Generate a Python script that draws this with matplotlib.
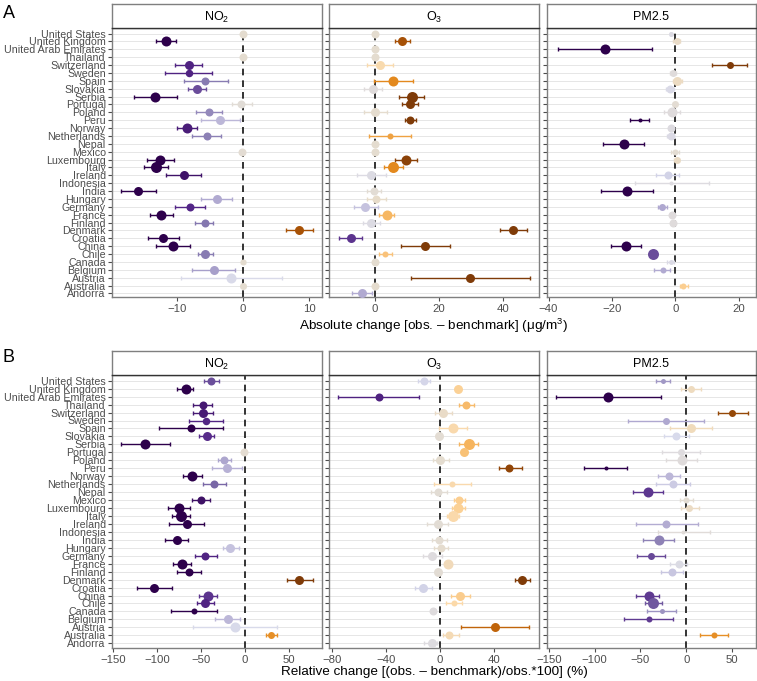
import numpy as np
import matplotlib.pyplot as plt
from matplotlib.colors import LinearSegmentedColormap, Normalize

plt.rcParams['font.family'] = ['Liberation Sans', 'DejaVu Sans']
plt.rcParams['mathtext.fontset'] = 'custom'
plt.rcParams['mathtext.rm'] = 'Liberation Sans'
plt.rcParams['mathtext.it'] = 'Liberation Sans:italic'

nan = np.nan

# countries, top to bottom
countries = ["United States", "United Kingdom", "United Arab Emirates", "Thailand",
             "Switzerland", "Sweden", "Spain", "Slovakia", "Serbia", "Portugal",
             "Poland", "Peru", "Norway", "Netherlands", "Nepal", "Mexico",
             "Luxembourg", "Italy", "Ireland", "Indonesia", "India", "Hungary",
             "Germany", "France", "Finland", "Denmark", "Croatia", "China",
             "Chile", "Canada", "Belgium", "Austria", "Australia", "Andorra"]

# ---- A: absolute change (ug/m3) ----
no2_abs = [0, -11.7, nan, 0, -8.2, -8.2, -5.7, -7.0, -13.3, -0.4, -5.2, -3.5, -8.5, -5.5, nan, -0.2,
           -12.5, -13.1, -9.0, nan, -15.8, -4.0, -8.0, -12.4, -5.8, 8.4, -12.1, -10.6, -5.7, 0,
           -4.4, -1.8, 0, nan]
no2_abs_lo = [-0.3, -13.2, nan, -0.3, -10.3, -11.8, -9.0, -8.4, -16.5, -1.7, -7.1, -6.4, -10.0, -7.7, nan, -0.5,
              -14.5, -14.9, -11.7, nan, -18.5, -6.3, -10.3, -14.1, -7.2, 6.5, -14.4, -13.1, -6.8, -0.3,
              -7.7, -9.4, -0.3, nan]
no2_abs_hi = [0.3, -10.2, nan, 0.3, -6.2, -4.7, -2.3, -5.6, -10.0, 1.4, -3.2, -0.5, -7.0, -3.4, nan, 0.1,
              -10.5, -11.3, -6.4, nan, -13.2, -1.7, -5.7, -10.6, -4.6, 10.5, -9.7, -8.1, -4.5, 0.3,
              -1.2, 5.8, 0.3, nan]

o3_abs = [0, 8.5, 0, 0, 1.6, nan, 5.7, -0.8, 11.5, 10.9, 0.1, 11.0, nan, 4.6, 0, 0,
          9.5, 5.7, -1.35, nan, -0.3, 0.3, -3.0, 3.6, -1.35, 43.2, -7.6, 15.7, 3.1, 0,
          nan, 29.7, 0.1, -4.0]
o3_abs_lo = [-0.4, 6.3, -0.4, -0.4, -2.6, nan, -0.2, -3.6, 7.6, 8.3, -3.4, 9.4, nan, -2.0, -0.4, -0.4,
             6.25, 2.8, -5.5, nan, -2.4, -2.6, -6.5, 1.25, -3.8, 39.0, -11.3, 8.1, 1.25, -0.3,
             nan, 11.25, -0.3, -7.2]
o3_abs_hi = [0.4, 11.0, 0.4, 0.4, 5.7, nan, 11.8, 2.3, 15.2, 13.5, 3.8, 12.7, nan, 11.25, 0.4, 0.4,
             13.0, 8.75, 3.4, nan, 1.9, 3.4, 0.8, 6.0, 1.6, 47.4, -4.1, 23.4, 5.4, 0.3,
             nan, 48.4, 0.5, -1.0]

pm_abs = [-1.4, 0.4, -22.2, nan, 17.3, -0.8, 0.7, -1.7, nan, -0.2, -0.9, -11.25, -1.2, -1.5, -16.25, -0.1,
          0.5, nan, -2.3, -1.2, -15.3, nan, -4.1, -0.9, -0.8, nan, nan, -15.4, -7.0, -1.5,
          -4.0, nan, 2.5, nan]
pm_abs_lo = [-1.6, -0.6, -37.1, nan, 11.75, -1.8, -0.8, -3.0, nan, -0.6, -3.4, -14.3, -1.6, -2.7, -22.8, -1.3,
             -0.3, nan, -6.1, -12.6, -23.6, nan, -5.6, -1.3, -1.2, nan, nan, -20.2, -7.6, -2.6,
             -6.7, nan, 1.6, nan]
pm_abs_hi = [-1.2, 1.4, -7.2, nan, 22.8, 0.2, 2.2, -0.4, nan, 0.2, 1.6, -8.3, -0.8, -0.3, -9.8, 1.1,
             1.3, nan, 1.3, 10.5, -6.9, nan, -2.5, -0.5, -0.4, nan, nan, -10.75, -6.4, -0.4,
             -1.6, nan, 4.1, nan]

# ---- B: relative change (%) ----
no2_rel = [-38, -67, nan, -48, -47.4, -44.3, -61.4, -43.2, -113, -0.4, -23, -20.5, -59.5, -34.5, nan, -50,
           -74.7, -72.7, -65.9, nan, -77.3, -16.7, -44.8, -71.3, -63, 62, -103, -41.7, -44.8, -57.3,
           -19, -10.7, 29.9, nan]
no2_rel_lo = [-46, -76.6, nan, -59, -59, -63, -97.7, -52, -141, -2.5, -30, -37.5, -70, -47.7, nan, -60,
              -86.8, -82.6, -85.7, nan, -91, -25, -57, -81.8, -76.6, 47.7, -122.7, -51.6, -53.8, -84,
              -33.8, -58.4, 23.9, nan]
no2_rel_hi = [-29, -58.4, nan, -37, -36, -25, -25, -34.5, -85, 2, -15, -3.1, -49, -21, nan, -40,
              -62, -62, -46, nan, -64.4, -6.8, -31.8, -61, -49.3, 77.3, -83, -31.8, -35.2, -31,
              -5.3, 36.4, 37, nan]

o3_rel = [-11.9, 13.3, -45.4, 19.3, 2.5, nan, 9.4, -1.0, 21, 17.5, 0.2, 51, nan, 9.1, -1.7, 13.8,
          13.1, 9.6, -1.7, nan, -0.7, 0.7, -5.7, 5.9, -1.7, 60.7, -12.8, 14.6, 9.9, -5.4,
          nan, 40.5, 6.9, -6.2]
o3_rel_lo = [-16.5, 12, -75.3, 14.3, -3.7, nan, -0.5, -2, 14.3, 16, -5, 43.5, nan, -4.2, -6.7, 9.9,
             8.6, 5, -9.3, nan, -6, -4.2, -12.8, 5, -3, 55, -18.5, 8.1, 4.2, -6.5,
             nan, 15.3, 2, -11.6]
o3_rel_hi = [-7.4, 14.6, -15.3, 24.7, 8.6, nan, 19.7, 0, 28.1, 19, 6.6, 60.2, nan, 22.7, 5, 18.5,
             18.5, 14.3, 6, nan, 5, 5.7, 1.7, 6.8, -0.4, 66.7, -6.2, 22, 16.3, -4.3,
             nan, 65.4, 13.6, -2.5]

pm_rel = [-25.4, 4.7, -85.2, nan, 50, -22.5, 5.4, -10.9, nan, -5.8, -4.7, -88, -19.2, -14.5, -41.3, -0.7,
          3.3, nan, -21.7, -3.3, -30, nan, -38.8, -8, -15.6, nan, nan, -41, -36.6, -26.5,
          -41, nan, 30, nan]
pm_rel_lo = [-32.6, -6.2, -142, nan, 34.4, -63.5, -17.4, -23.9, nan, -26, -21.7, -111.6, -31, -33, -58.7, -7.2,
             -6.2, nan, -55.4, -30.4, -47, nan, -54, -17.4, -27.2, nan, nan, -54.4, -44.6, -42.5,
             -68, nan, 14.9, nan]
pm_rel_hi = [-17.8, 15.6, -28, nan, 66.8, 18.8, 28.3, 2.5, nan, 15.3, 12, -65, -7.2, 3.9, -25, 7.3,
             13.4, nan, 12.3, 25.8, -13.6, nan, -22.8, 1.1, -3.6, nan, nan, -29.3, -26.5, -11.7,
             -14.5, nan, 45.7, nan]

# point diameters (px), shared by A and B
no2_size = [8, 10, 8, 8, 9, 7.5, 8, 9, 10, 8, 8, 9, 10, 8, 8, 8, 10, 11, 9, 8, 9, 9, 8, 10, 8, 9, 9, 10, 9, 6, 9, 10, 7, 8]
o3_size = [8, 9, 8, 8, 9, 8, 10, 9, 11, 9, 9, 8, 8, 6, 8, 8, 10, 11, 9, 8, 8, 8, 9, 10, 9, 9, 9, 9, 6, 8, 8, 9, 8, 9]
pm_size = [5, 7, 10, 8, 7, 7, 9, 8, 8, 7, 10, 4, 8, 8, 10, 6, 7, 8, 8, 4, 10, 8, 7, 8, 8, 8, 8, 10, 11, 5, 6, 8, 6, 8]

cmap = LinearSegmentedColormap.from_list("puor", [
    '#2d004b', '#542788', '#8073ac', '#b2abd2', '#d8daeb', '#e4dcd0',
    '#fdd9a6', '#f5b055', '#e08214', '#b35806', '#7f3b08'])

W, H = 757, 681
fig = plt.figure(figsize=(W / 100, H / 100), dpi=100)

cols_x = [(112, 322), (329, 539), (547, 756)]
names = ["NO$_2$", "O$_3$", "PM2.5"]
grey = '#4d4d4d'


def box(x0, x1, y0, y1):
    return [x0 / W, 1 - y1 / H, (x1 - x0) / W, (y1 - y0) / H]


def draw(ax, vals, lo, hi, sizes, norm, xlim, ticks, ylim, show_y):
    n = len(countries)
    ypos = np.arange(n)[::-1]
    ax.set_xlim(xlim)
    ax.set_ylim(ylim)
    for yy in ypos:
        ax.axhline(yy, color='#e6e6e6', lw=0.7, zorder=0)
    ax.axvline(0, color='#111111', lw=1.2, ls=(0, (4, 3)), zorder=1)
    for v, l, h, s, yy in zip(vals, lo, hi, sizes, ypos):
        if np.isnan(v):
            continue
        c = cmap(norm(v))
        ax.errorbar(v, yy, xerr=[[v - l], [h - v]], fmt='none', ecolor=c,
                    elinewidth=1, capsize=1.6, capthick=1, zorder=2)
        ax.plot(v, yy, 'o', ms=s * 0.72, color=c, mec='none', zorder=3)
    ax.set_xticks(ticks)
    ax.set_xticklabels([str(t).replace('-', '\u2212') for t in ticks])
    ax.set_yticks(ypos)
    if show_y:
        ax.set_yticklabels(countries, fontsize=7.7, color=grey)
    else:
        ax.set_yticklabels([])
        ax.tick_params(axis='y', length=0)
    ax.tick_params(axis='x', labelsize=8.2, labelcolor=grey, color=grey, length=3, width=0.8, pad=2)
    ax.tick_params(axis='y', color=grey, length=3, width=0.8, pad=1.5)
    for sp in ax.spines.values():
        sp.set_color('#7f7f7f')
        sp.set_linewidth(1)


def strip(x0, x1, y0, y1, label):
    sa = fig.add_axes(box(x0, x1, y0, y1))
    sa.set_xticks([])
    sa.set_yticks([])
    for sp in sa.spines.values():
        sp.set_color('#7f7f7f')
        sp.set_linewidth(1)
    sa.spines['bottom'].set_color('#333333')
    sa.text(0.5, 0.45, label, ha='center', va='center', fontsize=9, transform=sa.transAxes)


normA = Normalize(-10, 10, clip=True)
normB = Normalize(-55, 55, clip=True)

panelA = [(no2_abs, no2_abs_lo, no2_abs_hi, no2_size, (-19.8, 11.9), [-10, 0, 10]),
          (o3_abs, o3_abs_lo, o3_abs_hi, o3_size, (-14.4, 51.2), [0, 20, 40]),
          (pm_abs, pm_abs_lo, pm_abs_hi, pm_size, (-40.5, 25.5), [-40, -20, 0, 20])]
panelB = [(no2_rel, no2_rel_lo, no2_rel_hi, no2_size, (-151, 88), [-150, -100, -50, 0, 50]),
          (o3_rel, o3_rel_lo, o3_rel_hi, o3_size, (-82, 73), [-80, -40, 0, 40]),
          (pm_rel, pm_rel_lo, pm_rel_hi, pm_size, (-152, 76), [-150, -100, -50, 0, 50])]

for i, (x0, x1) in enumerate(cols_x):
    v, l, h, s, xl, tk = panelA[i]
    ax = fig.add_axes(box(x0, x1, 28, 297))
    draw(ax, v, l, h, s, normA, xl, tk, (-0.45, 33.7), i == 0)
    strip(x0, x1, 4, 28, names[i])

    v, l, h, s, xl, tk = panelB[i]
    ax = fig.add_axes(box(x0, x1, 375, 648))
    draw(ax, v, l, h, s, normB, xl, tk, (-0.6, 33.72), i == 0)
    strip(x0, x1, 351, 375, names[i])

fig.text(434 / W, 1 - 326 / H, "Absolute change [obs. \u2013 benchmark] (\u03bcg/m$^3$)",
         ha='center', va='center', fontsize=9.7)
fig.text(434 / W, 1 - 672 / H, "Relative change [(obs. \u2013 benchmark)/obs.*100] (%)",
         ha='center', va='center', fontsize=9.7)
fig.text(3 / W, 1 - 14 / H, "A", ha='left', va='center', fontsize=13)
fig.text(3 / W, 1 - 358 / H, "B", ha='left', va='center', fontsize=13)

fig.savefig("out.png", dpi=100)
